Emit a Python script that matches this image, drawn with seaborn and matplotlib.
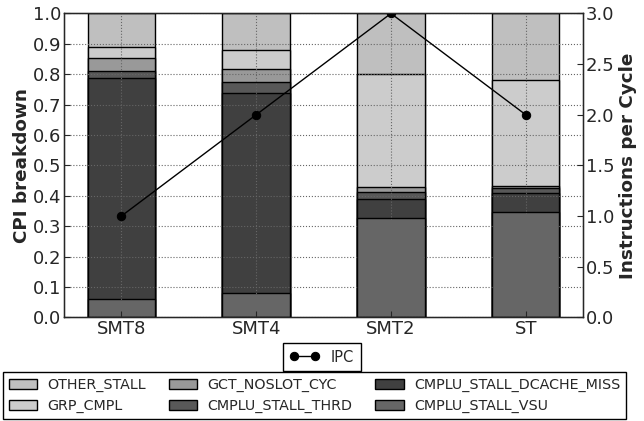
import numpy as np
import pandas as pd
import matplotlib
matplotlib.use('Agg')
import matplotlib.pyplot as plt
from matplotlib.patches import Patch
import seaborn as sns

# data: har config ke liye CPI stack (bottom se top)
configs = ['SMT8', 'SMT4', 'SMT2', 'ST']
cmplu_stall_vsu = [0.060, 0.080, 0.326, 0.346]
cmplu_stall_dcache_miss = [0.728, 0.659, 0.063, 0.062]
cmplu_stall_thrd = [0.023, 0.037, 0.023, 0.017]
gct_noslot_cyc = [0.042, 0.040, 0.016, 0.009]
grp_cmpl = [0.036, 0.065, 0.374, 0.347]
other_stall = [0.111, 0.119, 0.198, 0.219]
ipc = [1.0, 2.0, 3.0, 2.0]

layers = ['CMPLU_STALL_VSU', 'CMPLU_STALL_DCACHE_MISS', 'CMPLU_STALL_THRD',
          'GCT_NOSLOT_CYC', 'GRP_CMPL', 'OTHER_STALL']
colors = ['#666666', '#404040', '#585858', '#999999', '#cccccc', '#bfbfbf']

df = pd.DataFrame({
    'Config': configs,
    'CMPLU_STALL_VSU': cmplu_stall_vsu,
    'CMPLU_STALL_DCACHE_MISS': cmplu_stall_dcache_miss,
    'CMPLU_STALL_THRD': cmplu_stall_thrd,
    'GCT_NOSLOT_CYC': gct_noslot_cyc,
    'GRP_CMPL': grp_cmpl,
    'OTHER_STALL': other_stall,
})
cum = df[layers].cumsum(axis=1)

sns.set_style('ticks')
plt.rcParams['font.family'] = ['DejaVu Sans']

fig = plt.figure(figsize=(6.44, 4.21), dpi=100)
ax = fig.add_axes([0.0994, 0.246, 0.806, 0.722])

# stacked bars: sabse bada cumulative pehle, phir upar chhote wale
for name, col in reversed(list(zip(layers, colors))):
    sns.barplot(x=df['Config'], y=cum[name], color=col, width=0.5,
                edgecolor='black', linewidth=1.0, saturation=1, ax=ax)

ax.set_xlim(-0.425, len(configs) - 1 + 0.425)
ax.set_ylim(0, 1.0)
ax.set_yticks(np.arange(0, 1.01, 0.1))
ax.set_yticklabels([f'{v:.1f}' for v in np.arange(0, 1.01, 0.1)])
ax.set_xlabel('')
ax.set_ylabel('CPI breakdown', fontsize=13.2, fontweight='bold', labelpad=1)
ax.tick_params(axis='both', labelsize=13, direction='in', length=4, pad=2)
ax.set_axisbelow(False)
ax.grid(True, linestyle=':', color='0.4', linewidth=0.8)
for s in ax.spines.values():
    s.set_color('black')
    s.set_linewidth(1.0)

# IPC line on right axis
ax2 = ax.twinx()
sns.lineplot(x=np.arange(len(configs)), y=ipc, color='black', marker='o',
             markersize=6, linewidth=1.0, markeredgecolor='black',
             label='IPC', ax=ax2, legend=False)
ax2.set_ylim(0, 3.0)
ax2.set_yticks(np.arange(0, 3.01, 0.5))
ax2.set_yticklabels([f'{v:.1f}' for v in np.arange(0, 3.01, 0.5)])
ax2.set_ylabel('Instructions per Cycle', fontsize=13.2, fontweight='bold', labelpad=3)
ax2.tick_params(axis='y', labelsize=13, direction='in', length=4, pad=2)
ax2.grid(False)
ax.set_xlim(-0.425, len(configs) - 1 + 0.425)

# legends
h_ipc, l_ipc = ax2.get_legend_handles_labels()
leg1 = fig.legend(h_ipc, l_ipc, loc='upper center', bbox_to_anchor=(322 / 644, 1 - 343 / 421),
                  fontsize=10.5, numpoints=2, fancybox=False, edgecolor='black',
                  framealpha=1, borderpad=0.45, handlelength=2.0, borderaxespad=0)
leg1.get_frame().set_linewidth(1.0)

order = ['OTHER_STALL', 'GRP_CMPL', 'GCT_NOSLOT_CYC', 'CMPLU_STALL_THRD',
         'CMPLU_STALL_DCACHE_MISS', 'CMPLU_STALL_VSU']
cmap = dict(zip(layers, colors))
handles = [Patch(facecolor=cmap[n], edgecolor='black', linewidth=1.0) for n in order]
leg2 = fig.legend(handles, order, loc='upper left', bbox_to_anchor=(3 / 644, 1 - 372 / 421),
                  ncol=3, fontsize=10.3, fancybox=False, edgecolor='black',
                  framealpha=1, borderpad=0.4, columnspacing=1.6, handletextpad=0.7,
                  borderaxespad=0)
leg2.get_frame().set_linewidth(1.0)

fig.savefig('out.png', dpi=100)
